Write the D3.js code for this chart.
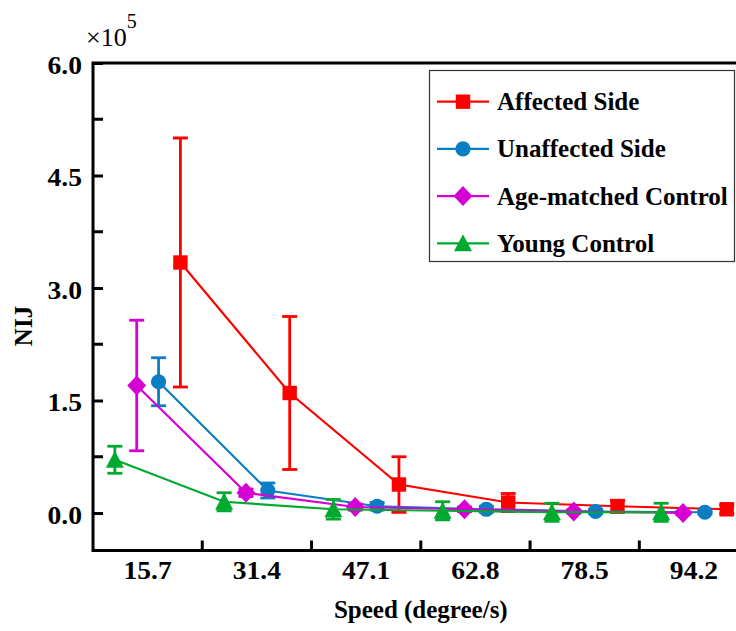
<!DOCTYPE html>
<html>
<head>
<meta charset="utf-8">
<script src="https://cdn.jsdelivr.net/npm/d3@7"></script>
<style>
  html, body { margin: 0; padding: 0; background: #fff; }
  svg { display: block; }
  text { font-family: "Liberation Serif", "Times New Roman", serif; fill: #000; }
</style>
</head>
<body>
<svg id="chart" width="736" height="631"></svg>
<script>
// ---------- data (NIJ in units of 1e5) ----------
const categories = ["15.7", "31.4", "47.1", "62.8", "78.5", "94.2"];
const affectedMean   = [3.34, 1.60, 0.38, 0.14, 0.09, 0.05];
const affectedErr    = [1.66, 1.02, 0.37, 0.12, 0.08, 0.06];
const unaffectedMean = [1.75, 0.30, 0.09, 0.05, 0.02, 0.01];
const unaffectedErr  = [0.32, 0.10, 0.05, 0.04, 0.03, 0.02];
const ageMean        = [1.70, 0.27, 0.08, 0.05, 0.02, 0.00];
const ageErr         = [0.87, 0.05, 0.04, 0.03, 0.02, 0.02];
const youngMean      = [0.71, 0.15, 0.05, 0.03, 0.01, 0.01];
const youngErr       = [0.18, 0.12, 0.13, 0.12, 0.12, 0.12];
const seriesNames    = ["Affected Side", "Unaffected Side", "Age-matched Control", "Young Control"];
const yMajorTicks    = [0, 1.5, 3.0, 4.5, 6.0];
const yMinorTicks    = [0.75, 2.25, 3.75, 5.25];

// ---------- styles ----------
const colors  = ["#ff0000", "#0a7ec4", "#d400d4", "#00aa2e"];
const shapes  = ["square", "circle", "diamond", "triangle"];
const offsets = [4, 3, 2, 1]; // position within band (fifths)

const series = [
  { name: seriesNames[0], mean: affectedMean,   err: affectedErr },
  { name: seriesNames[1], mean: unaffectedMean, err: unaffectedErr },
  { name: seriesNames[2], mean: ageMean,        err: ageErr },
  { name: seriesNames[3], mean: youngMean,      err: youngErr }
].map((s, i) => ({ ...s, color: colors[i], shape: shapes[i], off: offsets[i] }));

const svg = d3.select("#chart");
const L = 93, R = 748.6, T = 63, B = 550.5;

const x = d3.scaleBand().domain(categories).range([L, R]).padding(0);
const y = d3.scaleLinear().domain([-0.5, 6.0]).range([B, T]);
const px = (c, s) => x(c) + x.bandwidth() * s.off / 5;

function markerPath(shape, cx, cy) {
  const p = d3.path();
  if (shape === "square") {
    const h = 7.2; p.rect(cx - h, cy - h, 2 * h, 2 * h);
  } else if (shape === "circle") {
    p.moveTo(cx + 7.6, cy); p.arc(cx, cy, 7.6, 0, 2 * Math.PI);
  } else if (shape === "diamond") {
    p.moveTo(cx, cy - 10); p.lineTo(cx + 9.5, cy); p.lineTo(cx, cy + 10); p.lineTo(cx - 9.5, cy); p.closePath();
  } else {
    p.moveTo(cx, cy - 9); p.lineTo(cx + 9, cy + 8); p.lineTo(cx - 9, cy + 8); p.closePath();
  }
  return p.toString();
}

// ---------- plot clip ----------
svg.append("defs").append("clipPath").attr("id", "clip")
  .append("rect").attr("x", L).attr("y", T - 30).attr("width", R - L).attr("height", B - T + 30);

const plot = svg.append("g").attr("clip-path", "url(#clip)");

// series: lines, error bars, markers
series.forEach(s => {
  const g = plot.append("g");
  const pts = categories.map((c, i) => ({ c, v: s.mean[i], e: s.err[i] }));
  g.append("path")
    .attr("d", d3.line().x(d => px(d.c, s)).y(d => y(d.v))(pts))
    .attr("fill", "none").attr("stroke", s.color).attr("stroke-width", 2.2);
  const eb = g.selectAll(".eb").data(pts).enter().append("g");
  eb.append("line")
    .attr("x1", d => px(d.c, s)).attr("x2", d => px(d.c, s))
    .attr("y1", d => y(d.v + d.e)).attr("y2", d => y(d.v - d.e))
    .attr("stroke", s.color).attr("stroke-width", 2.8);
  [1, -1].forEach(sign => {
    eb.append("line")
      .attr("x1", d => px(d.c, s) - 7.5).attr("x2", d => px(d.c, s) + 7.5)
      .attr("y1", d => y(d.v + sign * d.e)).attr("y2", d => y(d.v + sign * d.e))
      .attr("stroke", s.color).attr("stroke-width", 2.8);
  });
  g.selectAll(".mk").data(pts).enter().append("path")
    .attr("d", d => markerPath(s.shape, px(d.c, s), y(d.v)))
    .attr("fill", s.color);
});

// ---------- axes ----------
const yAxis = d3.axisLeft(y).tickValues(yMajorTicks).tickSizeInner(-10).tickSizeOuter(0)
  .tickPadding(11).tickFormat(d3.format(".1f"));
const gy = svg.append("g").attr("transform", `translate(${L},0)`).call(yAxis);
gy.select(".domain").remove();
gy.selectAll(".tick line").attr("stroke", "#000").attr("stroke-width", 3);
gy.selectAll(".tick text").attr("font-size", 26).attr("font-weight", "bold")
  .attr("font-family", "Liberation Serif").attr("dy", "0.4em");

svg.append("g").selectAll("line").data(yMinorTicks).enter().append("line")
  .attr("x1", L).attr("x2", L + 10).attr("y1", d => y(d)).attr("y2", d => y(d))
  .attr("stroke", "#000").attr("stroke-width", 3);

const xAxis = d3.axisBottom(x).tickSize(0).tickPadding(10);
const gx = svg.append("g").attr("transform", `translate(0,${B})`).call(xAxis);
gx.select(".domain").remove();
gx.selectAll(".tick text").attr("font-size", 26).attr("font-weight", "bold")
  .attr("font-family", "Liberation Serif");

// stretch tick labels slightly (reference glyphs are wider)
[gy, gx].forEach(g => g.selectAll(".tick text").each(function () {
  const w = this.getComputedTextLength();
  d3.select(this).attr("textLength", w * 1.06).attr("lengthAdjust", "spacingAndGlyphs");
}));

// band boundary ticks
svg.append("g").selectAll("line").data(categories.slice(1)).enter().append("line")
  .attr("x1", d => x(d)).attr("x2", d => x(d)).attr("y1", B).attr("y2", B - 10)
  .attr("stroke", "#000").attr("stroke-width", 3);

// frame
svg.append("rect").attr("x", L).attr("y", T).attr("width", R - L).attr("height", B - T)
  .attr("fill", "none").attr("stroke", "#000").attr("stroke-width", 3);

// ---------- titles ----------
svg.append("text").attr("x", (L + R) / 2).attr("y", 618).attr("text-anchor", "middle")
  .attr("font-size", 25).attr("font-weight", "bold").text("Speed (degree/s)");
svg.append("text").attr("transform", "translate(32,326) rotate(-90)").attr("text-anchor", "middle")
  .attr("font-size", 25).attr("font-weight", "bold").text("NIJ");
const mult = svg.append("text").attr("x", 86).attr("y", 46).attr("font-size", 26);
mult.append("tspan").text("\u00d710");
mult.append("tspan").attr("font-size", 20).attr("dy", -18).text("5");

// ---------- legend ----------
const lg = svg.append("g");
lg.append("rect").attr("x", 429.5).attr("y", 70.5).attr("width", 305).attr("height", 191)
  .attr("fill", "#fff").attr("stroke", "#333").attr("stroke-width", 1.2);
series.forEach((s, i) => {
  const cy = 101.7 + i * 47.2;
  lg.append("line").attr("x1", 437).attr("x2", 489).attr("y1", cy).attr("y2", cy)
    .attr("stroke", s.color).attr("stroke-width", 2.2);
  lg.append("path").attr("d", markerPath(s.shape, 463, cy)).attr("fill", s.color);
  lg.append("text").attr("x", 497).attr("y", cy + 8.5).attr("font-size", 25)
    .attr("font-weight", "bold").text(s.name);
});
</script>
</body>
</html>
